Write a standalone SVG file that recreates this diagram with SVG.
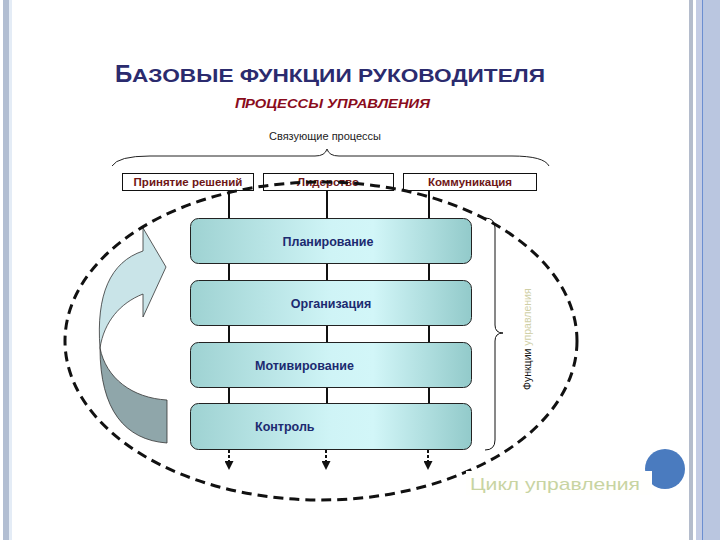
<svg xmlns="http://www.w3.org/2000/svg" width="720" height="540" viewBox="0 0 720 540">
<style>
.sb{fill:#ffffff;stroke:#111;stroke-width:1}
.sbt{font-family:"Liberation Sans",Arial,sans-serif;font-weight:bold;font-size:11.5px;fill:#6e1616;text-anchor:middle}
.bb{fill:url(#tg);stroke:#222;stroke-width:1}
.bbt{font-family:"Liberation Sans",Arial,sans-serif;font-weight:bold;font-size:12.5px;fill:#1c2a70}
.vl{stroke:#111;stroke-width:2;fill:none}
.da{stroke:#111;stroke-width:2;stroke-dasharray:3 2;fill:none}
</style>
<defs>
<linearGradient id="tg" x1="0" y1="0" x2="1" y2="0">
<stop offset="0" stop-color="#9ed2d2"/>
<stop offset="0.5" stop-color="#cff4f6"/>
<stop offset="0.65" stop-color="#d2f6f8"/>
<stop offset="1" stop-color="#92caca"/>
</linearGradient>
<marker id="ah" viewBox="0 0 10 10" refX="10" refY="5" markerWidth="10" markerHeight="9" orient="auto" markerUnits="userSpaceOnUse">
<path d="M0,0 L10,5 L0,10 Z" fill="#111"/>
</marker>
</defs>
<rect width="720" height="540" fill="#ffffff"/>
<!-- borders -->
<rect x="3" y="0" width="6" height="540" fill="#b2bed2"/>
<rect x="9" y="0" width="3" height="540" fill="#e4ecf6"/>
<rect x="689" y="0" width="4" height="540" fill="#b4bccc"/>
<rect x="696" y="0" width="6" height="540" fill="#c4cce4"/>
<rect x="702" y="0" width="1.5" height="540" fill="#6c8ed0"/>
<rect x="703.5" y="0" width="16.5" height="540" fill="#bac6e0"/>
<!-- titles -->
<g id="title">
<text x="115" y="82" font-family="Liberation Sans,Arial,sans-serif" font-weight="bold" font-size="24" fill="#2b2b6e">Б</text>
<text x="132" y="82" font-family="Liberation Sans,Arial,sans-serif" font-weight="bold" font-size="19" fill="#2b2b6e" textLength="413" lengthAdjust="spacingAndGlyphs">АЗОВЫЕ ФУНКЦИИ РУКОВОДИТЕЛЯ</text>
</g>
<g id="subtitle">
<text x="235" y="108" font-family="Liberation Sans,Arial,sans-serif" font-weight="bold" font-style="italic" font-size="15" fill="#8a0c1c">П</text>
<text x="245" y="108" font-family="Liberation Sans,Arial,sans-serif" font-weight="bold" font-style="italic" font-size="12" fill="#8a0c1c" textLength="185" lengthAdjust="spacingAndGlyphs">РОЦЕССЫ УПРАВЛЕНИЯ</text>
</g>
<g id="linking">
<text x="325" y="140" font-family="Liberation Sans,Arial,sans-serif" font-size="11" fill="#222" text-anchor="middle">Связующие процессы</text>
<path d="M112,166 Q118,156 150,156 L315,156 Q325,156 327,149 Q329,156 339,156 L512,156 Q544,156 549,166" fill="none" stroke="#222" stroke-width="1"/>
</g>
<!-- connectors -->
<g id="connectors">
<line class="vl" x1="229" y1="190" x2="229" y2="450"/>
<line class="vl" x1="327" y1="190" x2="327" y2="450"/>
<line class="vl" x1="429" y1="190" x2="429" y2="450"/>
<line class="da" x1="229" y1="450" x2="229" y2="470" marker-end="url(#ah)"/>
<line class="da" x1="326" y1="450" x2="326" y2="470" marker-end="url(#ah)"/>
<line class="da" x1="428" y1="450" x2="428" y2="470" marker-end="url(#ah)"/>
</g>
<g id="n-decision"><rect class="sb" x="122.5" y="173.5" width="131" height="17"/><text class="sbt" x="188" y="186">Принятие решений</text></g>
<g id="n-leadership"><rect class="sb" x="263.5" y="173.5" width="130" height="17"/><text class="sbt" x="328" y="186">Лидерство</text></g>
<g id="n-communication"><rect class="sb" x="403.5" y="173.5" width="133" height="17"/><text class="sbt" x="470" y="186">Коммуникация</text></g>
<g id="n-planning"><rect class="bb" x="190.5" y="218.5" width="281" height="45" rx="8"/><text class="bbt" x="328" y="246" text-anchor="middle">Планирование</text></g>
<g id="n-organization"><rect class="bb" x="190.5" y="280.5" width="281" height="45" rx="8"/><text class="bbt" x="331" y="308" text-anchor="middle">Организация</text></g>
<g id="n-motivation"><rect class="bb" x="190.5" y="342.5" width="281" height="45" rx="8"/><text class="bbt" x="255" y="370">Мотивирование</text></g>
<g id="n-control"><rect class="bb" x="190.5" y="403.5" width="281" height="46" rx="8"/><text class="bbt" x="255" y="431">Контроль</text></g>
<!-- right brace -->
<g id="functions">
<path d="M485,218 Q495,218 495,228 L495,325 Q495,333 503,333 Q495,333 495,341 L495,440 Q495,450 485,450" fill="none" stroke="#111" stroke-width="1"/>
<text transform="translate(531,390) rotate(-90)" font-family="Liberation Sans,Arial,sans-serif" font-size="10.5" fill="#111">Функции <tspan fill="#cfcfa6">управления</tspan></text>
</g>
<!-- curved arrow -->
<g id="cycle-arrow" stroke="#333" stroke-width="0.8">
<path d="M143,251 L143,228 L166,267 L143,317 L143,294 C120,303 104,322 100,348 C96,295 110,262 143,251 Z" fill="#c9e4e8"/>
<path d="M100,348 C106,378 132,398 167,400 L167,443 C125,440 100,410 100,348 Z" fill="#8fa6aa"/>
</g>
<!-- dashed cycle ellipse -->
<g id="cycle">
<ellipse cx="321" cy="341" rx="256" ry="159" fill="none" stroke="#111" stroke-width="3" stroke-dasharray="10 6"/>
</g>
<g id="cycle-label">
<circle cx="665" cy="469" r="20" fill="#4a7bbf"/>
<rect x="466" y="471" width="186" height="24" fill="#fffffd"/>
<text x="470" y="490" font-family="Liberation Sans,Arial,sans-serif" font-size="17" fill="#c8d4a2" textLength="170" lengthAdjust="spacingAndGlyphs">Цикл управления</text>
</g>
</svg>
